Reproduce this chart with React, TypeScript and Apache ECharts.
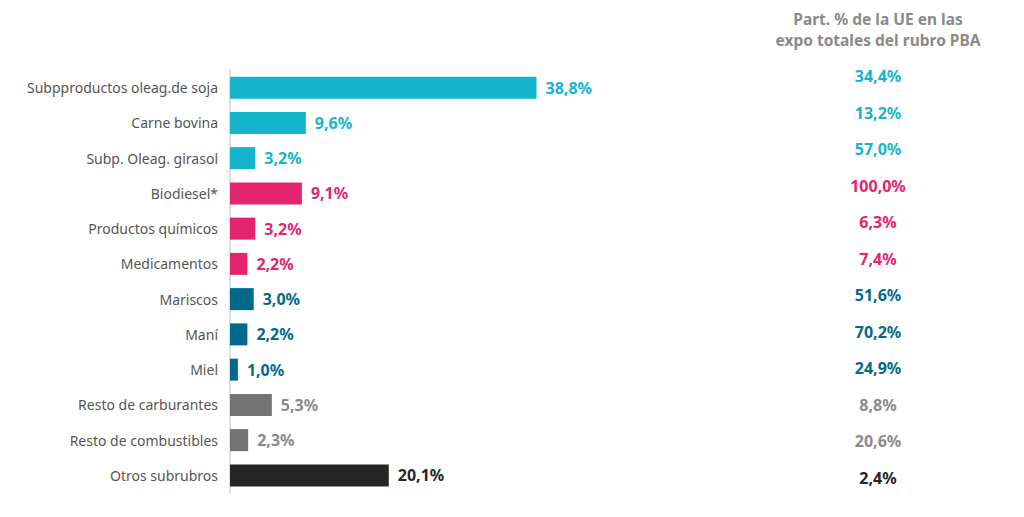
import React, { useEffect, useRef } from "react";
import * as echarts from "echarts";

const categories = [
  "Subpproductos oleag.de soja",
  "Carne bovina",
  "Subp. Oleag. girasol",
  "Biodiesel*",
  "Productos químicos",
  "Medicamentos",
  "Mariscos",
  "Maní",
  "Miel",
  "Resto de carburantes",
  "Resto de combustibles",
  "Otros subrubros",
];
const values = [38.8, 9.6, 3.2, 9.1, 3.2, 2.2, 3.0, 2.2, 1.0, 5.3, 2.3, 20.1];
const participation = [34.4, 13.2, 57.0, 100.0, 6.3, 7.4, 51.6, 70.2, 24.9, 8.8, 20.6, 2.4];
const groups = [0, 0, 0, 1, 1, 1, 2, 2, 2, 3, 3, 4];
const groupColors = ["#14b4cc", "#e5246f", "#006a8c", "#737373", "#262626"];
const rightTextColors = ["#14b4cc", "#e5246f", "#006a8c", "#8a8a8a", "#262626"];
const headerLines = ["Part. % de la UE en las", "expo totales del rubro PBA"];

const fmt = (v: number) => v.toFixed(1).replace(".", ",") + "%";
const FONT = "'Noto Sans', sans-serif";

export default function App() {
  const ref = useRef<HTMLDivElement>(null);
  useEffect(() => {
    const chart = echarts.init(ref.current!, undefined, { renderer: "svg" });
    const rich: Record<string, any> = {};
    rightTextColors.forEach((c, i) => {
      rich["g" + i] = { color: c, fontWeight: "bold", fontSize: 16, fontFamily: FONT };
    });
    chart.setOption({
      animation: false,
      backgroundColor: "#ffffff",
      textStyle: { fontFamily: FONT },
      graphic: headerLines.map((t, i) => ({
        type: "text",
        x: 870,
        y: 11 + i * 21,
        style: {
          text: t,
          textAlign: "center",
          textVerticalAlign: "middle",
          fill: "#8a8a8a",
          font: `bold 15.5px ${FONT}`,
        },
      })),
      grid: [
        { left: 222, top: 62, width: 316, height: 423 },
        { left: 870, top: 50, width: 10, height: 438 },
      ],
      xAxis: [
        { gridIndex: 0, type: "value", min: 0, max: 40, show: false },
        { gridIndex: 1, type: "value", min: 0, max: 1, show: false },
      ],
      yAxis: [
        {
          gridIndex: 0,
          type: "category",
          data: categories,
          inverse: true,
          axisLine: { show: true, lineStyle: { color: "#d4d4d4", width: 1.5 } },
          axisTick: { show: false },
          axisLabel: { color: "#555555", fontSize: 14, margin: 12, fontFamily: FONT },
        },
        {
          gridIndex: 1,
          type: "category",
          data: participation.map((p, i) => ({
            value: `{g${groups[i]}|${fmt(p)}}`,
          })),
          inverse: true,
          axisLine: { show: false },
          axisTick: { show: false },
          axisLabel: { align: "center", margin: 0, rich },
        },
      ],
      series: [
        {
          type: "bar",
          xAxisIndex: 0,
          yAxisIndex: 0,
          barWidth: 22,
          data: values.map((v, i) => ({
            value: v,
            itemStyle: { color: groupColors[groups[i]] },
            label: { color: rightTextColors[groups[i]] },
          })),
          label: {
            show: true,
            position: "right",
            distance: 9,
            fontWeight: "bold",
            fontSize: 16,
            fontFamily: FONT,
            formatter: (p: any) => fmt(p.value),
          },
        },
      ],
    });
    return () => chart.dispose();
  }, []);
  return <div ref={ref} style={{ width: 1008, height: 501 }} />;
}
